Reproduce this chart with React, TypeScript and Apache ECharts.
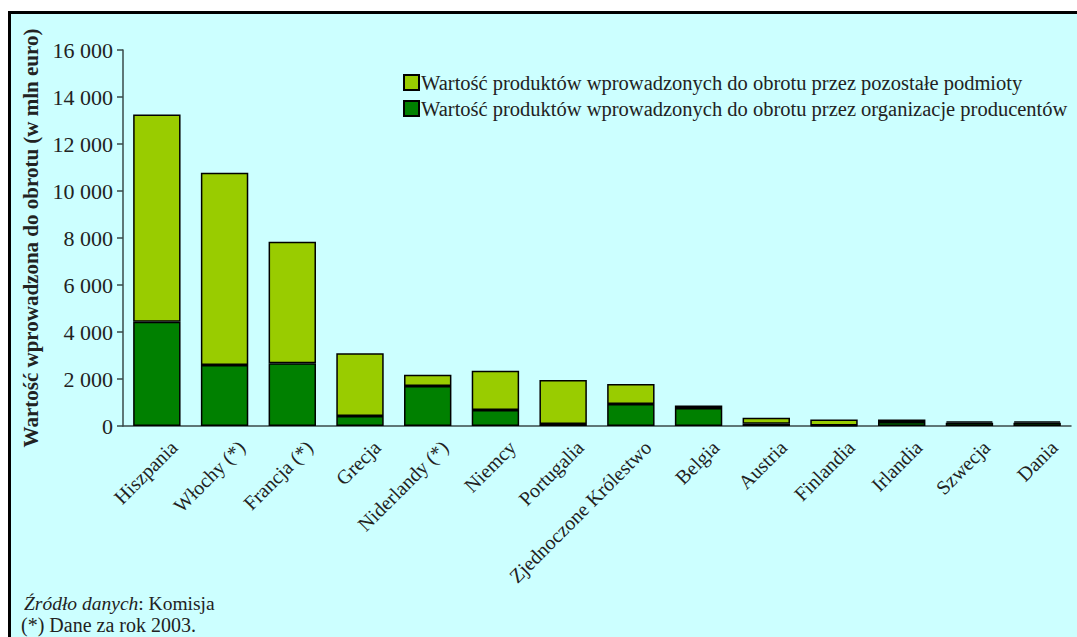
import React, { useEffect, useRef } from "react";
import * as echarts from "echarts";

// Countries, in the order the bars are drawn
const countries = [
  "Hiszpania",
  "Włochy (*)",
  "Francja (*)",
  "Grecja",
  "Niderlandy (*)",
  "Niemcy",
  "Portugalia",
  "Zjednoczone Królestwo",
  "Belgia",
  "Austria",
  "Finlandia",
  "Irlandia",
  "Szwecja",
  "Dania",
];

// Value marketed through producer organisations (mln EUR)
const producerOrgValues = [4440, 2600, 2670, 430, 1700, 680, 80, 940, 770, 100, 20, 170, 140, 140];

// Value marketed by other operators (mln EUR)
const otherOperatorValues = [8820, 8180, 5170, 2670, 480, 1670, 1880, 850, 100, 250, 260, 110, 60, 60];

const yTicks = [0, 2000, 4000, 6000, 8000, 10000, 12000, 14000, 16000];

const seriesNames = [
  "Wartość produktów wprowadzonych do obrotu przez pozostałe podmioty",
  "Wartość produktów wprowadzonych do obrotu przez organizacje producentów",
];

const FONT = "'Liberation Serif', 'DejaVu Serif', serif";
const LIGHT = "#99cc00";
const DARK = "#008000";

function formatThousands(v: number): string {
  return String(v).replace(/\B(?=(\d{3})+(?!\d))/g, " ");
}

export default function App() {
  const ref = useRef<HTMLDivElement>(null);

  useEffect(() => {
    if (!ref.current) return;
    const chart = echarts.init(ref.current, null, { renderer: "svg" });
    chart.setOption({
      animation: false,
      backgroundColor: "#ffffff",
      textStyle: { fontFamily: FONT },
      graphic: [
        {
          type: "rect",
          z: -10,
          silent: true,
          shape: { x: 10, y: 12, width: 1100, height: 700 },
          style: { fill: "#ccffff" },
        },
        {
          type: "line",
          z: -5,
          silent: true,
          shape: { x1: 9.5, y1: 12.5, x2: 1100, y2: 12.5 },
          style: { stroke: "#000", lineWidth: 3 },
        },
        {
          type: "line",
          z: -5,
          silent: true,
          shape: { x1: 9.5, y1: 11, x2: 9.5, y2: 700 },
          style: { stroke: "#000", lineWidth: 3 },
        },
        {
          type: "text",
          left: 24,
          top: 593,
          style: {
            text: "{i|Źródło danych}: Komisja",
            font: `19.5px ${FONT}`,
            fill: "#222",
            rich: {
              i: { fontStyle: "italic", fontSize: 19.5, fontFamily: FONT, fill: "#222" },
            },
          },
        },
        {
          type: "text",
          left: 21,
          top: 615,
          style: {
            text: "(*) Dane za rok 2003.",
            font: `20px ${FONT}`,
            fill: "#222",
          },
        },
      ],
      legend: {
        orient: "vertical",
        left: 398,
        top: 67,
        itemWidth: 15,
        itemHeight: 15,
        itemGap: 5,
        icon: "rect",
        data: seriesNames,
        textStyle: { fontFamily: FONT, fontSize: 20.5, color: "#222", padding: [0, 0, 0, -3] },
      },
      grid: { left: 123, right: 6, top: 50, bottom: 211, containLabel: false },
      xAxis: {
        type: "category",
        data: countries,
        axisLine: { lineStyle: { color: "#3a4a4a", width: 1.5 } },
        axisTick: { show: false },
        axisLabel: {
          rotate: 45,
          interval: 0,
          margin: 1,
          verticalAlign: "top",
          padding: [14, 0, 0, 0],
          fontFamily: FONT,
          fontSize: 20,
          color: "#222",
        },
      },
      yAxis: {
        type: "value",
        min: 0,
        max: yTicks[yTicks.length - 1],
        interval: yTicks[1] - yTicks[0],
        name: "Wartość wprowadzona do obrotu (w mln euro)",
        nameLocation: "middle",
        nameGap: 82,
        nameTextStyle: { fontFamily: FONT, fontSize: 21, fontWeight: "bold", color: "#222" },
        axisLine: { show: true, lineStyle: { color: "#3a4a4a", width: 1.5 } },
        axisTick: { show: true, length: 6, lineStyle: { color: "#3a4a4a", width: 1.5 } },
        splitLine: { show: false },
        axisLabel: {
          margin: 10,
          fontFamily: FONT,
          fontSize: 22,
          color: "#222",
          formatter: (v: number) => formatThousands(v),
        },
      },
      series: [
        {
          name: seriesNames[1],
          type: "bar",
          stack: "total",
          barWidth: "70%",
          data: producerOrgValues,
          itemStyle: { color: DARK, borderColor: "#000", borderWidth: 1.5 },
        },
        {
          name: seriesNames[0],
          type: "bar",
          stack: "total",
          barWidth: "70%",
          data: otherOperatorValues,
          itemStyle: { color: LIGHT, borderColor: "#000", borderWidth: 1.5 },
        },
      ],
    });
    return () => chart.dispose();
  }, []);

  return (
    <div
      ref={ref}
      style={{ position: "absolute", left: 0, top: 0, width: 1077, height: 637 }}
    />
  );
}
